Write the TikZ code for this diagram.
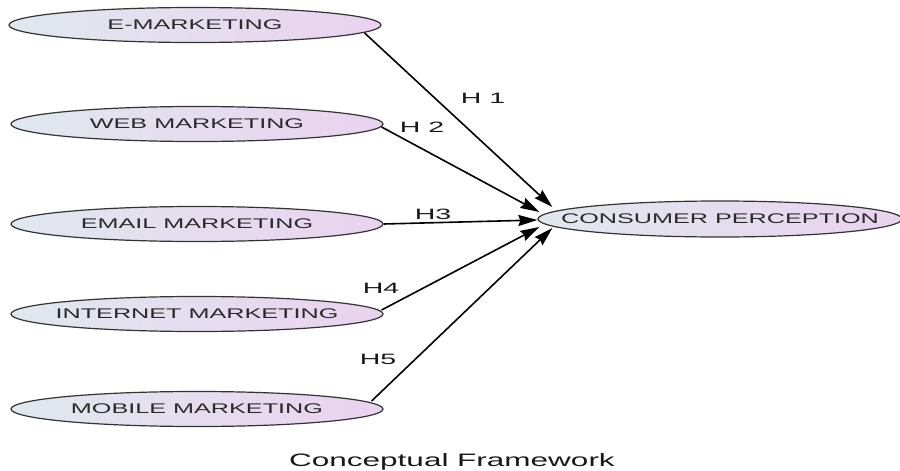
\documentclass[tikz,border=0pt]{standalone}
\usepackage{graphicx}
\usepackage{fontspec}
\setmainfont{Liberation Sans}
\usetikzlibrary{shapes.geometric,arrows.meta}
\definecolor{leftc}{HTML}{E0E8EE}
\definecolor{rightc}{HTML}{EAD2EF}
\definecolor{edgec}{HTML}{333333}
\definecolor{txtc}{HTML}{2A2A2A}
\newcommand{\widetxt}[2]{\makebox[0pt]{\scalebox{#1}[1]{#2}}}
\begin{document}
\begin{tikzpicture}[x=1pt,y=-1pt,
  oval/.style={ellipse, draw=edgec, line width=1.2pt, left color=leftc, right color=rightc,
    minimum width=372pt, minimum height=35pt, inner sep=0pt,
    font=\fontsize{14}{14}\selectfont, text=txtc},
  link/.style={-{Stealth[length=19pt,width=11pt,inset=2pt]}, line width=1.6pt, black},
  hyp/.style={font=\fontsize{15}{15}\selectfont, text=black!90, inner sep=0pt}]
\useasboundingbox (0,0) rectangle (900,471);
\fill[white] (0,0) rectangle (900,471);

\node[oval] (e1) at (195,25)  {\widetxt{1.8}{E-MARKETING}};
\node[oval] (e2) at (197,124) {\widetxt{1.8}{WEB MARKETING}};
\node[oval] (e3) at (197,224) {\widetxt{1.8}{EMAIL MARKETING}};
\node[oval] (e4) at (197,314) {\widetxt{1.8}{INTERNET MARKETING}};
\node[oval] (e5) at (197,409) {\widetxt{1.8}{MOBILE MARKETING}};
\node[oval, minimum width=364pt, minimum height=36pt] (cp) at (720,219) {\widetxt{1.8}{CONSUMER PERCEPTION}};

\draw[link] ([shift={(-17,8)}]e1.east) -- ([shift={(15,-12)}]cp.west);
\draw[link] ([shift={(-2,3)}]e2.east) -- ([shift={(2,-7)}]cp.west);
\draw[link] (e3.east) -- ([shift={(0,1)}]cp.west);
\draw[link] ([shift={(-2,-4)}]e4.east) -- ([shift={(2,8)}]cp.west);
\draw[link] ([shift={(-12,-8)}]e5.east) -- ([shift={(15,9)}]cp.west);

\node[hyp] (h1) at (483,98)  {\widetxt{1.9}{H 1}};
\node[hyp] (h2) at (422,127) {\widetxt{1.9}{H 2}};
\node[hyp] (h3) at (433,214) {\widetxt{1.9}{H3}};
\node[hyp] (h4) at (381,288) {\widetxt{1.9}{H4}};
\node[hyp] (h5) at (378,359) {\widetxt{1.9}{H5}};

\node[inner sep=0pt, font=\fontsize{18}{18}\selectfont, text=black!90] (cap) at (452,462) {\widetxt{1.75}{Conceptual Framework}};
\end{tikzpicture}
\end{document}
